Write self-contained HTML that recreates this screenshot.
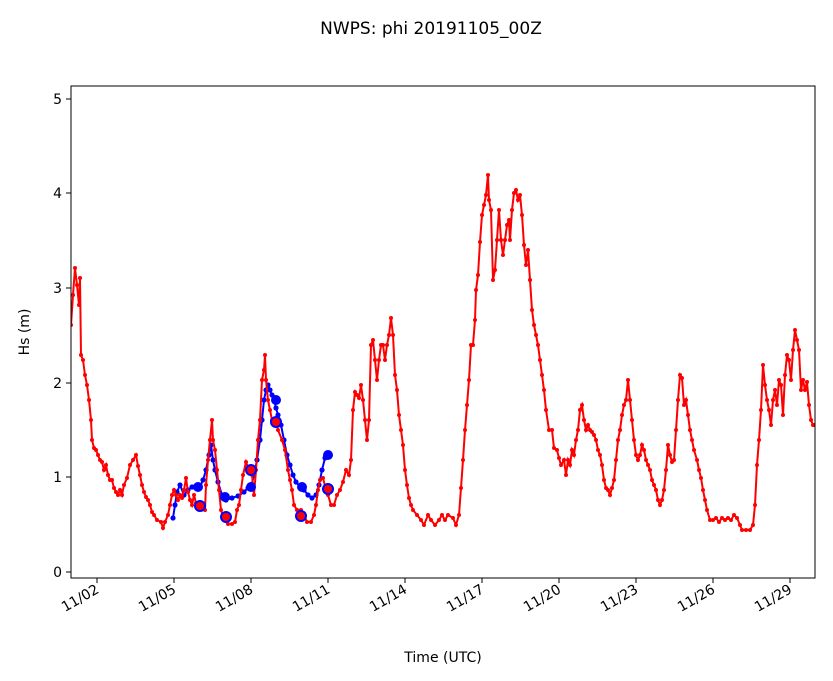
<!DOCTYPE html>
<html><head><meta charset="utf-8"><style>body{margin:0;background:#fff}svg{display:block}text{font-family:"DejaVu Sans","Liberation Sans",sans-serif;fill:#000}</style></head>
<body>
<svg width="833" height="681" viewBox="0 0 833 681">
<defs>
<clipPath id="c"><rect x="71" y="86" width="744" height="492"/></clipPath>
<marker id="mr" markerUnits="userSpaceOnUse" markerWidth="6" markerHeight="6" refX="3" refY="3"><circle cx="3" cy="3" r="2" fill="#ff0000"/></marker>
<marker id="mb" markerUnits="userSpaceOnUse" markerWidth="8" markerHeight="8" refX="4" refY="4"><circle cx="4" cy="4" r="2.6" fill="#0000ff"/></marker>
</defs>
<text x="431" y="34" font-size="17" text-anchor="middle">NWPS: phi 20191105_00Z</text>
<g clip-path="url(#c)">
<polyline fill="none" stroke="#0000ff" stroke-width="2" marker-start="url(#mb)" marker-mid="url(#mb)" marker-end="url(#mb)" points="173,518 175,505 177,492 180,485 184,495 188,490 192,487 196,487 200,487 203,480 206,470 209,455 211,445 213,460 215,470 218,482 222,495 226,500 232,498 238,496 244,492 248,488 251,487 254,475 257,460 260,440 262,420 264,400 266,390 268,385 270,390 272,395 274,400 276,408 278,415 281,425 284,440 287,455 290,465 293,475 296,482 300,487 304,490 308,495 312,498 316,495 319,485 322,470 325,458 328,455 330,455"/>
<polyline fill="none" stroke="#ff0000" stroke-width="2" marker-start="url(#mr)" marker-mid="url(#mr)" marker-end="url(#mr)" points="71,325 73,295 75,268 77,285 79,305 80,278 81,355 83,360 85,375 87,385 89,400 91,420 92,440 94,448 96,450 98,455 100,460 102,462 104,470 106,465 108,475 110,480 112,480 114,488 116,492 118,495 120,490 122,495 124,485 127,478 130,465 133,460 136,455 138,466 140,475 142,485 144,492 146,497 148,500 150,505 152,512 154,515 157,520 161,522 163,528 165,522 168,515 170,505 172,495 174,490 176,495 178,500 180,495 182,498 184,490 186,478 188,492 190,500 192,505 194,495 196,503 198,508 200,505 203,508 205,510 206,485 208,460 210,440 212,420 213,440 215,450 217,470 219,490 221,510 224,520 228,524 232,524 235,522 237,510 239,505 241,490 243,475 246,462 249,470 252,475 254,495 256,470 258,440 260,420 262,380 264,370 265,355 266,380 268,400 270,410 272,420 274,420 276,420 278,430 282,440 285,450 288,470 290,480 292,490 294,505 297,510 301,510 304,515 307,522 311,522 314,515 316,505 318,490 320,480 323,478 326,490 328,495 331,505 334,505 337,495 340,490 343,482 346,470 349,475 351,460 353,410 355,392 357,395 359,398 361,385 363,400 365,420 367,440 369,420 371,345 373,340 375,360 377,380 379,360 381,345 383,345 385,360 387,345 389,335 391,318 393,335 395,375 397,390 399,415 401,430 403,445 405,470 407,485 409,498 411,505 413,510 417,515 421,520 424,525 428,515 431,520 435,525 439,520 442,515 445,520 448,515 453,518 456,525 459,515 461,488 463,460 465,430 467,405 469,380 471,345 473,345 475,320 476,290 478,275 480,242 482,215 484,205 486,195 488,175 489,200 491,210 493,280 495,270 497,240 499,210 501,240 503,255 505,240 507,225 509,220 510,240 512,210 514,193 516,190 518,200 520,195 522,215 524,245 526,265 528,250 530,280 532,310 534,325 536,335 538,345 540,360 542,375 544,390 546,410 549,430 552,430 554,448 557,450 559,458 561,465 564,460 566,475 568,460 570,465 572,450 574,455 576,440 578,430 580,410 582,405 584,420 586,430 588,425 590,430 592,432 594,435 596,440 598,450 600,455 602,465 604,480 606,488 608,490 610,495 612,488 614,480 616,460 618,440 620,430 622,415 624,405 626,400 628,380 630,400 632,420 634,440 636,455 638,460 640,455 642,445 644,450 646,460 648,465 650,470 652,480 654,485 656,490 658,500 660,505 662,500 664,490 666,470 668,445 670,455 672,462 674,460 676,430 678,400 680,375 682,378 684,405 686,400 688,415 690,430 692,440 694,450 697,460 699,470 701,478 703,490 705,500 707,510 710,520 713,520 716,518 719,522 722,518 725,520 728,518 731,520 734,515 737,518 740,525 742,530 746,530 750,530 753,525 755,505 757,465 759,440 761,410 763,365 765,385 767,400 769,410 771,425 773,400 775,390 777,405 779,380 781,385 783,415 785,375 787,355 789,360 791,380 793,350 795,330 797,340 799,350 801,390 803,380 805,390 807,382 809,405 811,420 813,425 815,425"/>
<g fill="#0000ff"><circle cx="198" cy="487" r="5"/><circle cx="225" cy="497" r="5"/><circle cx="251" cy="487" r="5"/><circle cx="276" cy="400" r="5"/><circle cx="302" cy="487" r="5"/><circle cx="328" cy="455" r="5"/></g>
<g fill="#ff0000" stroke="#0000ff" stroke-width="2"><circle cx="200" cy="506" r="5"/><circle cx="226" cy="517" r="5"/><circle cx="251" cy="470" r="5"/><circle cx="276" cy="422" r="5"/><circle cx="301" cy="516" r="5"/><circle cx="328" cy="489" r="5"/></g>
</g>
<rect x="71" y="86" width="744" height="492" fill="none" stroke="#000" stroke-width="1"/>
<g stroke="#000"><line x1="66" y1="572" x2="71" y2="572"/><line x1="66" y1="477" x2="71" y2="477"/><line x1="66" y1="383" x2="71" y2="383"/><line x1="66" y1="288" x2="71" y2="288"/><line x1="66" y1="193" x2="71" y2="193"/><line x1="66" y1="99" x2="71" y2="99"/></g>
<g font-size="14" text-anchor="end"><text x="62" y="577">0</text><text x="62" y="482">1</text><text x="62" y="388">2</text><text x="62" y="293">3</text><text x="62" y="198">4</text><text x="62" y="104">5</text></g>
<g stroke="#000"><line x1="97" y1="578" x2="97" y2="583"/><line x1="174" y1="578" x2="174" y2="583"/><line x1="251" y1="578" x2="251" y2="583"/><line x1="328" y1="578" x2="328" y2="583"/><line x1="405" y1="578" x2="405" y2="583"/><line x1="482" y1="578" x2="482" y2="583"/><line x1="559" y1="578" x2="559" y2="583"/><line x1="636" y1="578" x2="636" y2="583"/><line x1="713" y1="578" x2="713" y2="583"/><line x1="790" y1="578" x2="790" y2="583"/></g>
<g font-size="14" text-anchor="end">
<text transform="translate(100,592) rotate(-30)">11/02</text><text transform="translate(177,592) rotate(-30)">11/05</text><text transform="translate(254,592) rotate(-30)">11/08</text><text transform="translate(331,592) rotate(-30)">11/11</text><text transform="translate(408,592) rotate(-30)">11/14</text><text transform="translate(485,592) rotate(-30)">11/17</text><text transform="translate(562,592) rotate(-30)">11/20</text><text transform="translate(639,592) rotate(-30)">11/23</text><text transform="translate(716,592) rotate(-30)">11/26</text><text transform="translate(793,592) rotate(-30)">11/29</text></g>
<text x="443" y="662" font-size="14" text-anchor="middle">Time (UTC)</text>
<text transform="translate(29,332) rotate(-90)" font-size="14" text-anchor="middle">Hs (m)</text>
</svg>
</body></html>
